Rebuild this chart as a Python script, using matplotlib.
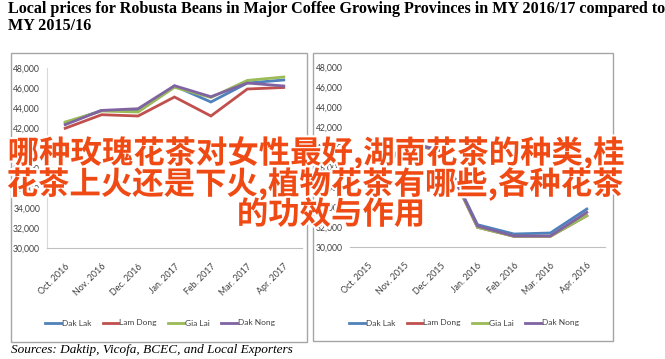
import matplotlib
matplotlib.use('Agg')
import matplotlib.pyplot as plt
import matplotlib.patheffects as pe
from matplotlib.patches import Rectangle
import numpy as np

# data
months_1617 = ['Oct. 2016', 'Nov. 2016', 'Dec. 2016', 'Jan. 2017', 'Feb. 2017', 'Mar. 2017', 'Apr. 2017']
months_1516 = ['Oct. 2015', 'Nov. 2015', 'Dec. 2015', 'Jan. 2016', 'Feb. 2016', 'Mar. 2016', 'Apr. 2016']
provinces = ['Dak Lak', 'Lam Dong', 'Gia Lai', 'Dak Nong']

dak_lak_1617 = [42470, 43760, 43750, 46200, 44600, 46500, 46800]
lam_dong_1617 = [41970, 43330, 43200, 45100, 43200, 45900, 46050]
gia_lai_1617 = [42600, 43700, 43600, 46070, 45050, 46760, 47100]
dak_nong_1617 = [42330, 43760, 43930, 46230, 45130, 46500, 46200]

dak_lak_1516 = [35750, 40480, 39700, 32230, 31300, 31400, 33800]
lam_dong_1516 = [35650, 40400, 39600, 31970, 31070, 31070, 33130]
gia_lai_1516 = [35700, 40420, 39620, 31970, 31070, 31070, 33130]
dak_nong_1516 = [35720, 40460, 39660, 32100, 31100, 31100, 33470]

yticks = [30000, 32000, 34000, 36000, 38000, 40000, 42000, 44000, 46000, 48000]
colors = ['#4f81bd', '#c0504d', '#9bbb59', '#8064a2']

W, H = 665, 359
fig = plt.figure(figsize=(W / 100, H / 100), dpi=100)
small = ['Lato', 'DejaVu Sans']


def px(x0, y0, x1, y1):
    # pixel box (top-left origin) -> figure fraction rect
    return [x0 / W, 1 - y1 / H, (x1 - x0) / W, (y1 - y0) / H]


# panel frames
for x0, x1, y1 in [(11, 307, 342), (313, 613, 341)]:
    r = Rectangle((x0 / W, 1 - y1 / H), (x1 - x0) / W, (y1 - 53) / H,
                  transform=fig.transFigure, fill=False, edgecolor='#a6a6a6', lw=1.0)
    fig.patches.append(r)


def panel(rect, months, series, left_line, legend_x):
    ax = fig.add_axes(rect)
    x = np.arange(len(months))
    for s, c, name in zip(series, colors, provinces):
        ax.plot(x, s, color=c, lw=2.0, label=name, solid_joinstyle='miter')
    ax.set_xlim(-0.5, len(months) - 0.5)
    ax.set_ylim(30000, 48000)
    ax.set_yticks(yticks)
    ax.set_yticklabels(['{:,}'.format(v) for v in yticks], family=small, fontsize=6.2, color='#404040')
    ax.set_xticks(x)
    ax.set_xticklabels(months, rotation=45, ha='right', va='top', rotation_mode='anchor',
                       family=small, fontsize=6.4, color='#404040')
    ax.tick_params(length=0, pad=5)
    ax.tick_params(axis='x', pad=10)
    for sp in ['top', 'right']:
        ax.spines[sp].set_visible(False)
    ax.spines['left'].set_visible(left_line)
    ax.spines['left'].set_color('#d9d9d9')
    ax.spines['bottom'].set_color('#bfbfbf')
    h, l = ax.get_legend_handles_labels()
    fig.legend(h, l, loc='center', bbox_to_anchor=(legend_x / W, 1 - 323 / H), ncol=4,
               frameon=False, prop={'family': small, 'size': 6}, handlelength=1.9,
               handletextpad=0.1, columnspacing=1.4, labelcolor='#404040')
    return ax


panel(px(47, 68, 302, 248), months_1617,
      [dak_lak_1617, lam_dong_1617, gia_lai_1617, dak_nong_1617], True, 160)
panel(px(350, 67, 605, 247), months_1516,
      [dak_lak_1516, lam_dong_1516, gia_lai_1516, dak_nong_1516], False, 464)

fig.text(8 / W, 1 - 9 / H, 'Local prices for Robusta Beans in Major Coffee Growing Provinces in MY 2016/17 compared to',
         family='Liberation Serif', weight='bold', fontsize=11.6, va='center', ha='left')
fig.text(8 / W, 1 - 26 / H, 'MY 2015/16',
         family='Liberation Serif', weight='bold', fontsize=11.6, va='center', ha='left')
fig.text(11 / W, 1 - 350 / H, 'Sources: Daktip, Vicofa, BCEC, and Local Exporters',
         family='Liberation Serif', style='italic', fontsize=9.5, va='center', ha='left')

# overlay caption
stroke = [pe.withStroke(linewidth=3, foreground='white')]
lines = ['哪种玫瑰花茶对女性最好,湖南花茶的种类,桂', '花茶上火还是下火,植物花茶有哪些,各种花茶', '的功效与作用']
for t, cx, cy in zip(lines, [316, 315, 331], [153, 184, 215]):
    fig.text(cx / W, 1 - cy / H, t, family=['Noto Sans CJK SC', 'DejaVu Sans'], weight='bold',
             fontsize=22.6, color='#f04a14', ha='center', va='center', path_effects=stroke)

fig.savefig('out.png', dpi=100)
